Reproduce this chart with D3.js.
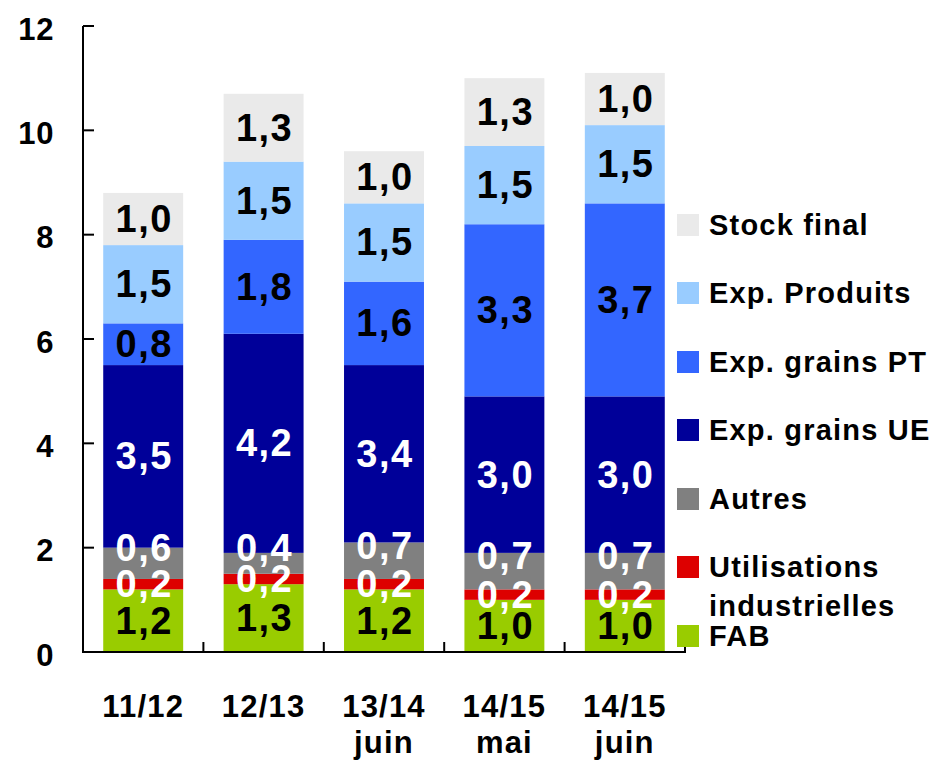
<!DOCTYPE html>
<html>
<head>
<meta charset="utf-8">
<script src="https://cdn.jsdelivr.net/npm/d3@7/dist/d3.min.js"></script>
<style>
  html, body { margin: 0; padding: 0; background: #fff; }
  svg { display: block; font-family: "Liberation Sans", Arial, sans-serif; font-weight: bold; }
</style>
</head>
<body>
<svg id="chart" width="932" height="769"></svg>
<script>
// Campaigns (tick labels split into lines)
const categories = ["11/12", "12/13", "13/14 juin", "14/15 mai", "14/15 juin"];
const categoryLines = [["11/12"], ["12/13"], ["13/14", "juin"], ["14/15", "mai"], ["14/15", "juin"]];

// Series values (Mt), bottom to top
const fab       = [1.2, 1.3, 1.2, 1.0, 1.0];
const util      = [0.2, 0.2, 0.2, 0.2, 0.2];
const autres    = [0.6, 0.4, 0.7, 0.7, 0.7];
const expUE     = [3.5, 4.2, 3.4, 3.0, 3.0];
const expPT     = [0.8, 1.8, 1.6, 3.3, 3.7];
const expProd   = [1.5, 1.5, 1.5, 1.5, 1.5];
const stockFin  = [1.0, 1.3, 1.0, 1.3, 1.0];

const seriesNames = ["FAB", "Utilisations industrielles", "Autres", "Exp. grains UE", "Exp. grains PT", "Exp. Produits", "Stock final"];
const seriesValues = [fab, util, autres, expUE, expPT, expProd, stockFin];
const seriesColors = ["#99CC00", "#DD0000", "#808080", "#000099", "#3366FF", "#99CCFF", "#EAEAEA"];
const labelColors  = ["#000", "#fff", "#fff", "#fff", "#000", "#000", "#000"];
// vertical nudge of the value labels per series (px), keeps the thin-segment labels apart
const labelNudge   = [0, 0, -15, 0, 0, 0, 0];

const yTicks = [0, 2, 4, 6, 8, 10, 12];

const svg = d3.select("#chart");

const x = d3.scaleBand().domain(categories).range([83, 685]).paddingInner(0.336).paddingOuter(0.168);
const y = d3.scaleLinear().domain([0, 12]).range([652, 26]);

// Build table for stacking
const rows = categories.map((c, i) => {
  const r = { cat: c };
  seriesNames.forEach((s, k) => { r[s] = seriesValues[k][i]; });
  return r;
});
const stacked = d3.stack().keys(seriesNames)(rows);

const fmt = v => d3.format(".1f")(v).replace(".", ",");

// Bars
const layers = svg.append("g").selectAll("g.layer").data(stacked).join("g")
  .attr("fill", (d, k) => seriesColors[k]);
layers.selectAll("rect").data(d => d).join("rect")
  .attr("x", d => x(d.data.cat))
  .attr("width", x.bandwidth())
  .attr("y", d => y(d[1]))
  .attr("height", d => y(d[0]) - y(d[1]));

// Axes
const axisG = svg.append("g").attr("stroke", "#000").attr("stroke-width", 2).attr("fill", "none");
axisG.append("line").attr("x1", 83).attr("x2", 83).attr("y1", y(12)).attr("y2", y(0));
axisG.append("line").attr("x1", 82).attr("x2", 686).attr("y1", y(0)).attr("y2", y(0));
axisG.selectAll("line.yt").data(yTicks).join("line").attr("class", "yt")
  .attr("x1", 83).attr("x2", 94).attr("y1", d => y(d)).attr("y2", d => y(d));
const step = x.step();
const bounds = d3.range(categories.length + 1).map(i => 83 + i * step);
axisG.selectAll("line.xt").data(bounds.slice(1)).join("line").attr("class", "xt")
  .attr("x1", d => d).attr("x2", d => d).attr("y1", y(0)).attr("y2", y(0) - 10);

// Y tick labels
svg.append("g").selectAll("text").data(yTicks).join("text")
  .attr("x", 54).attr("y", d => y(d) + 3)
  .attr("text-anchor", "end").attr("dominant-baseline", "central")
  .attr("font-size", 31).attr("letter-spacing", 0.6).text(d => d);

// X tick labels
const xl = svg.append("g").selectAll("text").data(categories).join("text")
  .attr("x", d => x(d) + x.bandwidth() / 2)
  .attr("y", 717)
  .attr("text-anchor", "middle").attr("font-size", 31).attr("letter-spacing", 1.2);
xl.selectAll("tspan").data((d, i) => categoryLines[i]).join("tspan")
  .attr("x", function () { return this.parentNode.getAttribute("x"); })
  .attr("dy", (d, j) => j === 0 ? 0 : 36)
  .text(d => d);

// Value labels
const lab = svg.append("g").selectAll("g").data(stacked).join("g")
  .attr("fill", (d, k) => labelColors[k])
  .attr("transform", (d, k) => `translate(0,${labelNudge[k]})`);
lab.selectAll("text").data(d => d).join("text")
  .attr("x", d => x(d.data.cat) + x.bandwidth() / 2 + 1)
  .attr("y", d => y((d[0] + d[1]) / 2))
  .attr("text-anchor", "middle").attr("dominant-baseline", "central")
  .attr("font-size", 38).attr("letter-spacing", 1.5)
  .text(d => fmt(d[1] - d[0]));

// Legend (top to bottom)
const legendOrder = [6, 5, 4, 3, 2, 1, 0];
const legendY = [225, 293, 362, 430, 499, 567, 636];
const lg = svg.append("g").selectAll("g").data(legendOrder).join("g")
  .attr("transform", (k, i) => `translate(677,${legendY[i]})`);
lg.append("rect").attr("x", 0).attr("y", -11).attr("width", 22).attr("height", 22)
  .attr("fill", k => seriesColors[k]);
const lt = lg.append("text").attr("x", 32).attr("y", 10).attr("font-size", 29).attr("letter-spacing", 1.2);
lt.filter(k => k !== 1).text(k => seriesNames[k]);
lt.filter(k => k === 1).each(function () {
  const t = d3.select(this);
  t.append("tspan").attr("x", 32).attr("dy", 0).text("Utilisations");
  t.append("tspan").attr("x", 32).attr("dy", 39).text("industrielles");
});
</script>
</body>
</html>
